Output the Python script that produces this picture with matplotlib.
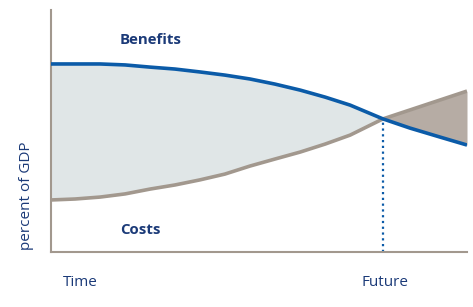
import numpy as np
import matplotlib
matplotlib.use("Agg")
import matplotlib.pyplot as plt

# --- data (arbitrary units) ---
time = [0, 5.8, 11.8, 17.8, 23.8, 29.8, 35.8, 41.8, 47.8, 53.8,
        59.9, 65.9, 71.9, 79.8, 86.3, 93.5, 100]
benefits = [77.7, 77.7, 77.7, 77.3, 76.4, 75.6, 74.4, 73.1, 71.5, 69.4,
            66.9, 64.0, 60.7, 55.0, 51.2, 47.5, 44.2]
costs = [21.5, 21.9, 22.7, 24.0, 26.0, 27.7, 29.8, 32.2, 35.5, 38.4,
         41.3, 44.6, 48.3, 55.0, 58.7, 62.8, 66.5]
future_x = 79.8
future_y = 55.0

BLUE = "#0b5ba8"
TAUPE = "#a2988e"
NAVY = "#1b3a78"
LIGHT = "#e0e6e7"
DARK_FILL = "#b6aca4"

plt.rcParams["font.family"] = ["Open Sans", "DejaVu Sans"]

fig = plt.figure(figsize=(4.73, 3.07), dpi=100)
ax = fig.add_axes([51 / 473, 55 / 307, 416 / 473, 242 / 307])

t = np.array(time)
b = np.array(benefits)
c = np.array(costs)

ax.fill_between(t, c, b, where=b >= c, interpolate=True, color=LIGHT, lw=0)
ax.fill_between(t, b, c, where=c >= b, interpolate=True, color=DARK_FILL, lw=0)
ax.plot(t, c, color=TAUPE, lw=2.6, solid_capstyle="butt", solid_joinstyle="round", zorder=3)
ax.plot(t, b, color=BLUE, lw=2.6, solid_capstyle="butt", solid_joinstyle="round", zorder=4)
ax.plot([future_x, future_x], [0, future_y], color=BLUE, lw=1.6,
        linestyle=(0, (1, 1.6)), zorder=2)

ax.set_xlim(0, 100)
ax.set_ylim(0, 100)
for s in ["top", "right"]:
    ax.spines[s].set_visible(False)
for s in ["left", "bottom"]:
    ax.spines[s].set_color(TAUPE)
    ax.spines[s].set_linewidth(1.5)
ax.set_xticks([])
ax.set_yticks([])

ax.text(24, 87.6, "Benefits", color=NAVY, fontsize=10.8, fontweight="bold",
        ha="center", va="center")
ax.text(21.4, 9.1, "Costs", color=NAVY, fontsize=10.8, fontweight="bold",
        ha="center", va="center")
ax.text(7, -12.4, "Time", color=NAVY, fontsize=11, ha="center", va="center")
ax.text(80.3, -12.4, "Future", color=NAVY, fontsize=11, ha="center", va="center")
ax.text(-5.8, 23.1, "percent of GDP", color=NAVY, fontsize=11, rotation=90,
        ha="center", va="center")

fig.savefig("out.png", dpi=100)
